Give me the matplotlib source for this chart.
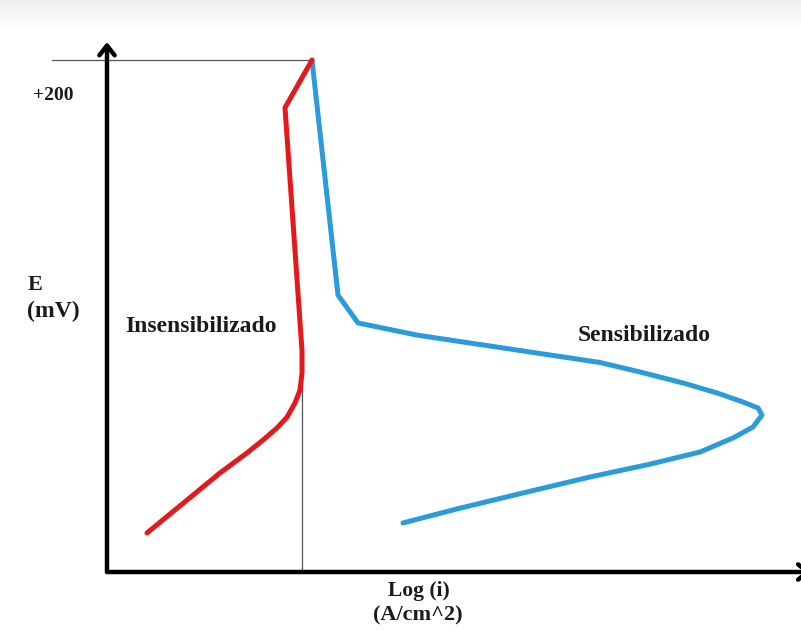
import numpy as np
import matplotlib
matplotlib.use("Agg")
import matplotlib.pyplot as plt

# Data read from the schematic (x: log(i) in arbitrary units, y: E in arbitrary mV-like units)
red_logi = [20.5, 17.8, 19.5, 19.5, 19.3, 18.8, 18.0, 17.0, 15.6, 14.0, 11.3, 8.0, 4.0]
red_E = [215, 195, 93, 83.6, 76.4, 71, 65, 60.5, 55.4, 50, 41.6, 30.2, 16.4]

blue_logi = [20.5, 23.1, 25.1, 31.0, 42.3, 49.3, 53.3, 57.6, 61.0, 63.6, 65.1, 65.5,
             64.6, 62.6, 59.3, 54.2, 48.3, 41.6, 35.0, 29.6]
blue_E = [215, 116.3, 104.6, 99.5, 92.4, 88.0, 84.0, 79.4, 75.2, 71.4, 68.9, 65.9,
          60.9, 56.3, 50.4, 45.2, 39.9, 33.2, 26.5, 20.6]

E_pass = 215        # horizontal reference line
logi_ref = 19.5     # vertical reference line
E_ref_top = 91

W, H = 801, 641
fig = plt.figure(figsize=(W / 100, H / 100), dpi=100)
fig.patch.set_facecolor("white")

# light grey shade at the top of the image
bg = fig.add_axes([0, 0, 1, 1], zorder=-10)
grad = np.ones((H, 2))
top = np.linspace(0.93, 1.0, 30)
grad[:30, :] = top[:, None]
bg.imshow(grad, cmap="gray", vmin=0, vmax=1, aspect="auto", extent=[0, 1, 0, 1])
bg.axis("off")

ax_left, ax_bottom, ax_right, ax_top = 107, 572, 801, 42
ax = fig.add_axes([ax_left / W, 1 - ax_bottom / H, (ax_right - ax_left) / W, (ax_bottom - ax_top) / H])
ax.set_xlim(0, (ax_right - ax_left) / 10)
ax.set_ylim(0, (ax_bottom - ax_top) * 0.42)
ax.patch.set_alpha(0)
for s in ax.spines.values():
    s.set_visible(False)
ax.set_xticks([])
ax.set_yticks([])

# axes with arrows
ax.annotate("", xy=(0, 1.0), xytext=(0, 0), xycoords="axes fraction",
            arrowprops=dict(arrowstyle="->,head_length=0.7,head_width=0.55", lw=3.2, color="black",
                            shrinkA=0, shrinkB=0), annotation_clip=False)
ax.annotate("", xy=(1.015, 0), xytext=(0, 0), xycoords="axes fraction",
            arrowprops=dict(arrowstyle="->,head_length=0.7,head_width=0.55", lw=3.2, color="black",
                            shrinkA=0, shrinkB=0), annotation_clip=False)

# reference lines
ax.plot([-5.5, red_logi[0]], [E_pass, E_pass], color="#555555", lw=0.9, clip_on=False)
ax.plot([logi_ref, logi_ref], [0, E_ref_top], color="#555555", lw=0.9)

# curves
ax.plot(blue_logi, blue_E, color="#2b9bd9", lw=3.6, solid_joinstyle="round", solid_capstyle="round")
ax.plot(red_logi, red_E, color="#e5181c", lw=3.6, solid_joinstyle="round", solid_capstyle="round")

font = dict(family="Liberation Serif", fontweight="bold", color="#1a1a1a")

def ftext(x, y, s, ha="left", size=14):
    fig.text(x / W, 1 - y / H, s, ha=ha, va="center", fontsize=size, **font)

ftext(33, 95, "+200", size=14)
ftext(28, 285, "E", size=16)
ftext(27, 311, "(mV)", size=17)
ftext(125, 326, "Insensibilizado", size=17)
ftext(578, 335, "Sensibilizado", size=17)
ftext(419, 591, "Log (i)", ha="center", size=15.5)
ftext(418, 615, "(A/cm^2)", ha="center", size=16)

fig.savefig("out.png", dpi=100)
